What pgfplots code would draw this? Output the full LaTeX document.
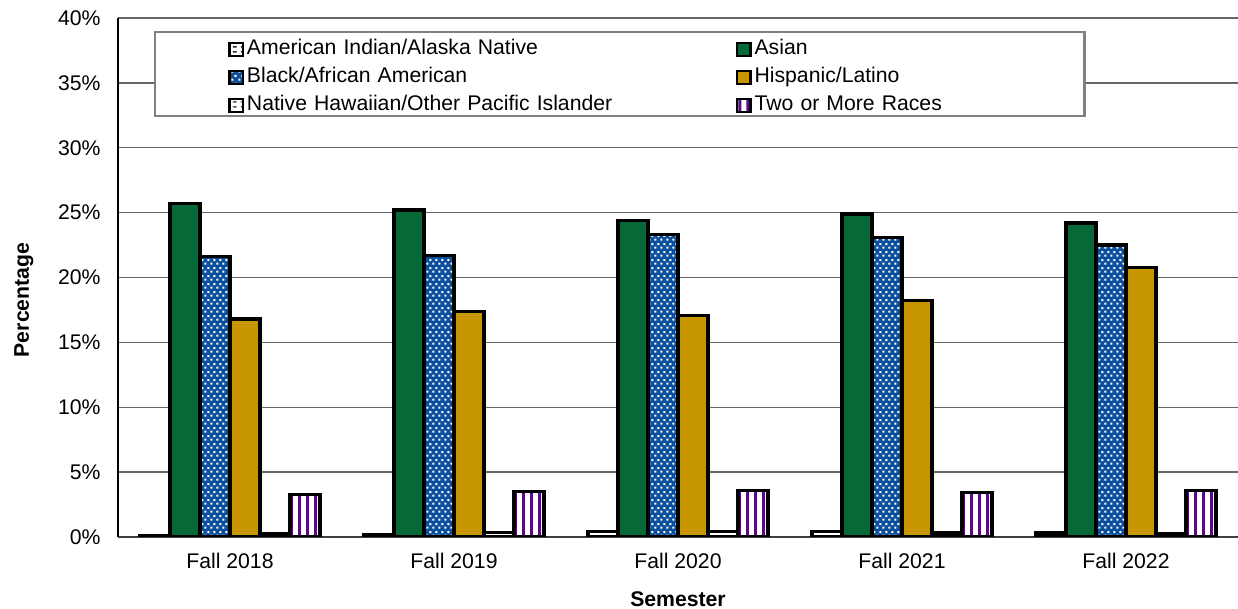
\documentclass[border=0pt]{standalone}
\usepackage{fontspec}
\setmainfont{Liberation Sans}
\usepackage{pgfplots}
\pgfplotsset{compat=1.18}
\usetikzlibrary{patterns}

\definecolor{asian}{RGB}{6,106,56}
\definecolor{blk}{RGB}{10,78,156}
\definecolor{hisp}{RGB}{200,150,0}
\definecolor{purp}{RGB}{85,15,125}
\definecolor{steel}{RGB}{70,100,120}

\pgfdeclarepatternformonly{wdots}{\pgfqpoint{0bp}{0bp}}{\pgfqpoint{3.2bp}{4bp}}{\pgfqpoint{3.2bp}{4bp}}{%
  \pgfpathrectangle{\pgfqpoint{0.2bp}{0.2bp}}{\pgfqpoint{1.1bp}{1.1bp}}%
  \pgfpathrectangle{\pgfqpoint{1.8bp}{2.2bp}}{\pgfqpoint{1.1bp}{1.1bp}}%
  \pgfusepath{fill}}
\pgfdeclarepatternformonly{vstripes}{\pgfqpoint{0bp}{0bp}}{\pgfqpoint{4bp}{1bp}}{\pgfqpoint{4bp}{1bp}}{%
  \pgfpathrectangle{\pgfqpoint{1.2bp}{0bp}}{\pgfqpoint{1.6bp}{1bp}}%
  \pgfusepath{fill}}
\pgfdeclarepatternformonly{hdash}{\pgfqpoint{0bp}{0bp}}{\pgfqpoint{4bp}{2.5bp}}{\pgfqpoint{4bp}{2.5bp}}{%
  \pgfpathrectangle{\pgfqpoint{0.5bp}{0.8bp}}{\pgfqpoint{2bp}{0.8bp}}%
  \pgfusepath{fill}}

\pgfplotsset{barsty/.style={draw=black, line width=1.6bp}}

\begin{document}
\begin{tikzpicture}
\begin{axis}[
  font=\fontsize{10.6bp}{12.7bp}\selectfont,
  /pgf/number format/assume math mode=true,
  scale only axis, width=560bp, height=259.5bp,
  ybar=0pt, bar width=15bp,
  xmin=-0.5, xmax=4.5, ymin=0, ymax=40,
  xtick={0,1,2,3,4},
  xticklabels={Fall 2018,Fall 2019,Fall 2020,Fall 2021,Fall 2022},
  ytick={0,5,10,15,20,25,30,35,40},
  yticklabels={0\%,5\%,10\%,15\%,20\%,25\%,30\%,35\%,40\%},
  major tick length=0pt,
  axis x line*=bottom, axis y line*=left,
  x axis line style={draw=black!75, line width=1bp},
  y axis line style={draw=black, line width=0.8bp},
  ymajorgrids, grid style={draw=black!60, line width=0.7bp},
  yticklabel style={anchor=east, inner sep=0pt, xshift=-8.5bp},
  xticklabel style={anchor=north, inner sep=0pt, yshift=-8bp},
  xlabel={\bfseries Semester},
  xlabel style={at={(axis description cs:0.5,-0.1195)}, anchor=center},
  ylabel={\bfseries Percentage},
  ylabel style={at={(axis description cs:-0.084,0.4566)}, anchor=center},
  legend image code/.code={\draw[#1, line width=1.2bp] (0bp,-3.3bp) rectangle (6.6bp,3.3bp);},
  legend columns=2,
  legend cell align=left,
  legend style={at={(axis description cs:0.0982,0.967)}, anchor=north west,
    draw=none, fill=none, inner sep=0pt, column sep=0pt, row sep=0pt,
    nodes={text width=243bp, inner xsep=1.5bp, inner ysep=1.5bp, text height=8bp, text depth=3bp, anchor=west}},
]
\addplot[barsty, fill=white, postaction={pattern=hdash, pattern color=black!85}] coordinates {(0,0.1) (1,0.2) (2,0.4) (3,0.45) (4,0.3)};
\addplot[barsty, fill=asian] coordinates {(0,25.7) (1,25.2) (2,24.4) (3,24.9) (4,24.2)};
\addplot[barsty, fill=blk, postaction={pattern=wdots, pattern color=white}] coordinates {(0,21.6) (1,21.7) (2,23.3) (3,23.1) (4,22.5)};
\addplot[barsty, fill=hisp] coordinates {(0,16.8) (1,17.4) (2,17.1) (3,18.25) (4,20.8)};
\addplot[barsty, fill=white, postaction={pattern=hdash, pattern color=steel}] coordinates {(0,0.25) (1,0.35) (2,0.4) (3,0.3) (4,0.25)};
\addplot[barsty, fill=white, postaction={pattern=vstripes, pattern color=purp}] coordinates {(0,3.3) (1,3.5) (2,3.6) (3,3.45) (4,3.6)};
\draw[draw=black!50, line width=1.1bp, fill=white] (rel axis cs:0.033,0.811) rectangle (rel axis cs:0.863,0.973);
\legend{American Indian/Alaska Native, Asian, Black/African American, Hispanic/Latino, Native Hawaiian/Other Pacific Islander, Two or More Races}
\end{axis}
\pgfresetboundingbox
\path[use as bounding box] ([shift={(-59bp,-36bp)}]current axis.south west) rectangle ([shift={(0bp,9bp)}]current axis.north east);
\end{tikzpicture}
\end{document}
